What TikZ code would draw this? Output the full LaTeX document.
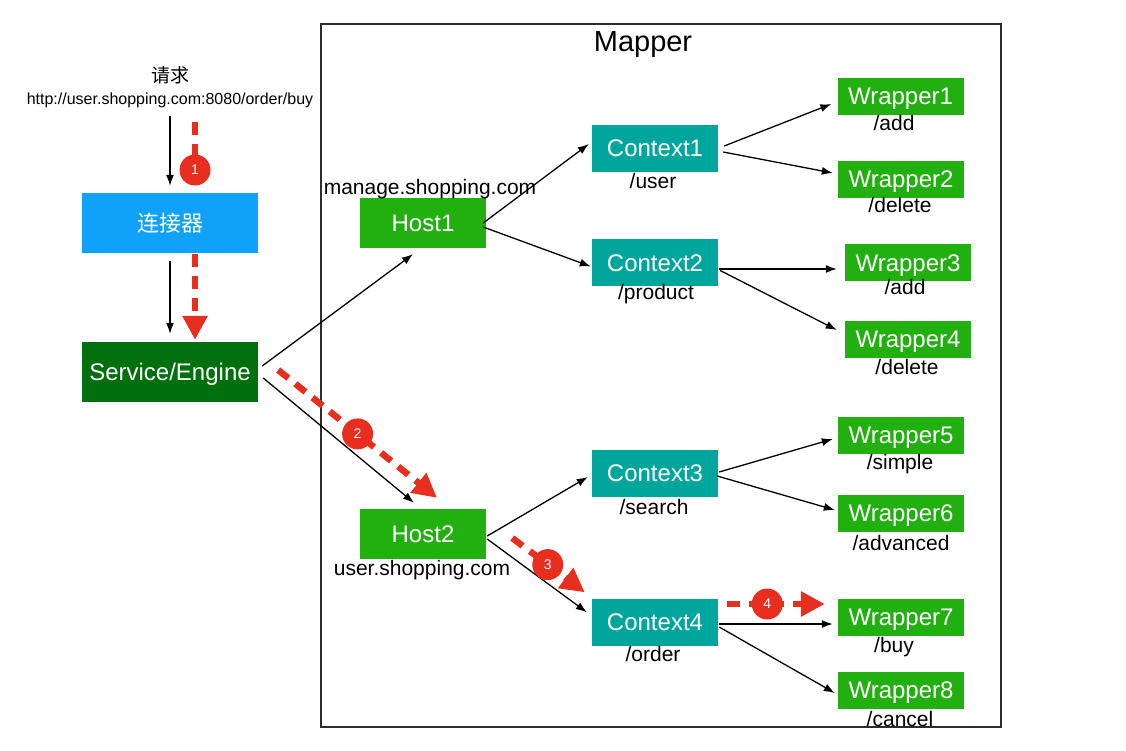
\documentclass[tikz,border=0pt]{standalone}
\usepackage{fontspec}
\setmainfont{Liberation Sans}
\newfontfamily\cjk{Noto Sans CJK SC}
\usetikzlibrary{arrows.meta}
\definecolor{connblue}{RGB}{16,162,250}
\definecolor{svcgreen}{RGB}{0,112,14}
\definecolor{hostgreen}{RGB}{34,176,16}
\definecolor{ctxteal}{RGB}{0,166,156}
\definecolor{flowred}{RGB}{232,46,30}
\definecolor{framegray}{RGB}{45,45,45}
\begin{document}
\begin{tikzpicture}[x=1pt,y=-1pt,
  box/.style={draw=none, text=white, inner sep=0pt, font=\fontsize{24}{28}\selectfont, text height=17.3pt, text depth=0pt},
  hostbox/.style={box, fill=hostgreen, minimum width=126pt, minimum height=50pt},
  ctxbox/.style={box, fill=ctxteal, minimum width=126pt, minimum height=47pt},
  wrapbox/.style={box, fill=hostgreen, minimum width=126pt, minimum height=37pt},
  lbl/.style={inner sep=0pt, font=\fontsize{21}{25}\selectfont, text height=15pt, text depth=0pt},
  link/.style={line width=1.3pt, -{Latex[length=11pt,width=8pt]}},
  flowline/.style={draw=flowred, line width=6.5pt, dash pattern=on 13pt off 9pt},
  flow/.style={flowline, -{Triangle[length=24pt,width=24pt]}},
  badge/.style={circle, fill=flowred, minimum size=31pt, inner sep=0pt, text=white, font=\fontsize{14}{16}\selectfont}
]
\useasboundingbox (0,0) rectangle (1126,750);
\fill[white] (0,0) rectangle (1126,750);

% Mapper frame
\node[draw=framegray, line width=1.5pt, minimum width=680pt, minimum height=703pt, inner sep=0pt] (mapper) at (661,375.5) {};
\node[font=\fontsize{29}{34}\selectfont, inner sep=0pt, text height=21pt, text depth=0pt] (mtitle) at (643,41) {Mapper};

% request
\node[font=\cjk\fontsize{19}{22}\selectfont, inner sep=0pt, text height=15.8pt, text depth=1.3pt] (qq) at (170,75) {请求};
\node[font=\fontsize{16}{19}\selectfont, inner sep=0pt, text height=11.5pt, text depth=0pt] (url) at (170,99) {http://user.shopping.com:8080/order/buy};

% left boxes
\node[box, fill=connblue, minimum width=176pt, minimum height=60pt, font=\cjk\fontsize{22}{26}\selectfont, text height=18.3pt, text depth=1.5pt] (conn) at (170,223) {连接器};
\node[box, fill=svcgreen, minimum width=176pt, minimum height=60pt] (svc) at (170,372) {Service/Engine};

% hosts
\node[hostbox] (host1) at (423,223) {Host1};
\node[hostbox] (host2) at (423,534) {Host2};
\node[lbl] (h1l) at (430,187) {manage.shopping.com};
\node[lbl] (h2l) at (422,568) {user.shopping.com};

% contexts
\node[ctxbox] (ctx1) at (655,148) {Context1};
\node[ctxbox] (ctx2) at (655,262.5) {Context2};
\node[ctxbox] (ctx3) at (655,473) {Context3};
\node[ctxbox] (ctx4) at (655,622) {Context4};
\node[lbl] (c1l) at (653,181) {/user};
\node[lbl] (c2l) at (656,292) {/product};
\node[lbl] (c3l) at (654,507) {/search};
\node[lbl] (c4l) at (653,654) {/order};

% wrappers
\node[wrapbox] (w1) at (900.5,96) {Wrapper1};
\node[wrapbox] (w2) at (901,179) {Wrapper2};
\node[wrapbox] (w3) at (908,262.5) {Wrapper3};
\node[wrapbox] (w4) at (908,339) {Wrapper4};
\node[wrapbox] (w5) at (901,435) {Wrapper5};
\node[wrapbox] (w6) at (901,513) {Wrapper6};
\node[wrapbox] (w7) at (901,617) {Wrapper7};
\node[wrapbox] (w8) at (901,690) {Wrapper8};
\node[lbl] (w1l) at (894,123) {/add};
\node[lbl] (w2l) at (900,205) {/delete};
\node[lbl] (w3l) at (905,287) {/add};
\node[lbl] (w4l) at (907,367) {/delete};
\node[lbl] (w5l) at (900,462) {/simple};
\node[lbl] (w6l) at (901,543) {/advanced};
\node[lbl] (w7l) at (894,645) {/buy};
\node[lbl] (w8l) at (900,719) {/cancel};

% black connectors
\draw[link] ([shift={(0,11)}]url.south) -- ([shift={(0,-7)}]conn.north);
\draw[link] ([shift={(0,8)}]conn.south) -- ([shift={(0,-8)}]svc.north);
\draw[link] ([shift={(4,-6)}]svc.east) -- ([shift={(-10,6)}]host1.south);
\draw[link] ([shift={(5,6)}]svc.east) -- ([shift={(-9,-6)}]host2.north);
\draw[link] ([shift={(-3,0)}]host1.east) -- ([shift={(-3,-4)}]ctx1.west);
\draw[link] ([shift={(-3,4)}]host1.east) -- ([shift={(-1,4)}]ctx2.west);
\draw[link] ([shift={(1,2)}]host2.east) -- ([shift={(-4,4)}]ctx3.west);
\draw[link] ([shift={(1,5)}]host2.east) -- ([shift={(-5,14)}]ctx4.north west);
\draw[link] ([shift={(6,-2)}]ctx1.east) -- ([shift={(-6,8)}]w1.west);
\draw[link] ([shift={(5,4)}]ctx1.east) -- ([shift={(-5,-6)}]w2.west);
\draw[link] ([shift={(1,6.5)}]ctx2.east) -- ([shift={(-8,6.5)}]w3.west);
\draw[link] ([shift={(2,8)}]ctx2.east) -- ([shift={(-8,-9)}]w4.west);
\draw[link] ([shift={(1,-1)}]ctx3.east) -- ([shift={(-5,4)}]w5.west);
\draw[link] ([shift={(-1,3)}]ctx3.east) -- ([shift={(-3,-3)}]w6.west);
\draw[link] ([shift={(1,2)}]ctx4.east) -- ([shift={(-5,7)}]w7.west);
\draw[link] ([shift={(1,5)}]ctx4.east) -- ([shift={(-3,3)}]w8.west);

% red flow
\coordinate (r1s) at (195,122);
\coordinate (r1e) at (195,170);
\draw[flowline] (r1s) -- (r1e) node[badge] (b1) {1};
\draw[flow] ([shift={(25,1)}]conn.south) -- ([shift={(25,-2)}]svc.north);
\draw[flow] ([shift={(20,-2)}]svc.east) -- node[badge,pos=0.5] (b2) {2} ([shift={(14,-11)}]host2.north);
\draw[flow] ([shift={(26,4)}]host2.east) -- node[badge,pos=0.49] (b3) {3} ([shift={(-7,-6)}]ctx4.north west);
\draw[flow] ([shift={(9,-18)}]ctx4.east) -- node[badge,pos=0.41] (b4) {4} ([shift={(-13,-13)}]w7.west);
\end{tikzpicture}
\end{document}
